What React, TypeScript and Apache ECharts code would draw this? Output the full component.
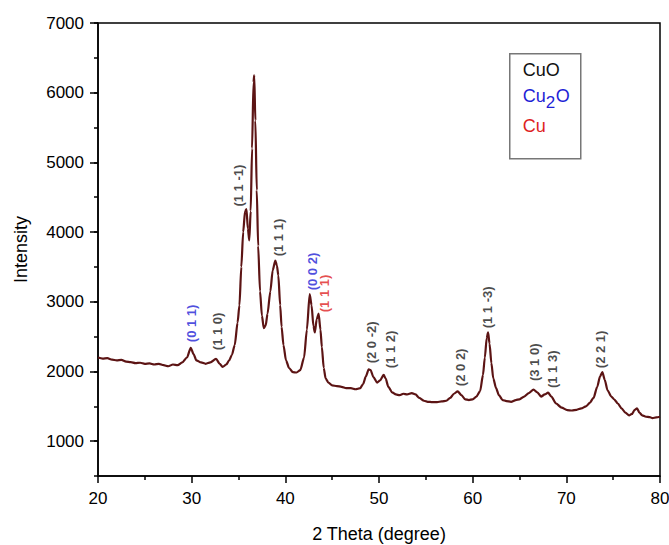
import React, { useEffect, useRef } from "react";
import * as echarts from "echarts";

// 2θ values (degree)
const theta: number[] = [
  20.0, 20.5, 21.0, 21.5, 22.0, 22.5, 23.0, 23.5, 24.0, 24.5, 25.0, 25.5, 26.0, 26.5, 27.0, 27.5, 28.0, 28.5,
  29.0, 29.5, 29.9, 30.2, 30.5, 31.0, 31.5, 32.0, 32.6, 33.0, 33.3, 33.7, 34.0, 34.3, 34.6, 34.9, 35.1, 35.3,
  35.5, 35.7, 35.85, 36.0, 36.15, 36.3, 36.45, 36.6, 36.68, 36.8, 36.95, 37.1, 37.3, 37.5, 37.7, 37.9, 38.1,
  38.4, 38.65, 38.93, 39.1, 39.25, 39.45, 39.6, 39.8, 40.07, 40.4, 40.8, 41.2, 41.6, 42.0, 42.3, 42.6, 42.8,
  43.0, 43.15, 43.35, 43.55, 43.75, 43.9, 44.1, 44.3, 44.6, 45.0, 45.5, 46.0, 46.5, 47.0, 47.5, 48.0, 48.3,
  48.6, 48.9, 49.1, 49.4, 49.8, 50.1, 50.5, 50.7, 51.0, 51.4, 51.8, 52.2, 52.6, 53.0, 53.5, 53.9, 54.3, 54.8,
  55.2, 55.7, 56.2, 56.7, 57.2, 57.6, 58.0, 58.4, 58.8, 59.2, 59.6, 60.0, 60.4, 60.8, 61.1, 61.3, 61.5, 61.65,
  61.8, 62.0, 62.2, 62.5, 62.8, 63.2, 63.6, 64.1, 64.6, 65.0, 65.5, 66.0, 66.5, 66.9, 67.3, 67.7, 68.05, 68.4,
  68.9, 69.5, 70.1, 70.6, 71.1, 71.6, 72.1, 72.5, 72.9, 73.3, 73.6, 73.85, 74.1, 74.4, 74.8, 75.1, 75.5, 75.9,
  76.3, 76.7, 77.0, 77.3, 77.55, 77.8, 78.1, 78.5, 78.9, 79.2, 79.6, 80.0,
];

// Intensity values
const intensity: number[] = [
  2200, 2185, 2190, 2170, 2160, 2165, 2140, 2135, 2120, 2125, 2110, 2115, 2100, 2110, 2090, 2075, 2100, 2090,
  2130, 2200, 2340, 2250, 2160, 2130, 2110, 2130, 2180, 2110, 2065, 2100, 2160, 2240, 2380, 2700, 2950, 3500,
  4000, 4300, 4330, 4050, 3880, 4300, 5200, 6150, 6250, 5600, 4600, 3800, 3150, 2800, 2620, 2660, 2830,
  3150, 3450, 3590, 3520, 3380, 2950, 2640, 2380, 2160, 2050, 1990, 1985, 2020, 2200, 2600, 3110, 2950,
  2650, 2560, 2750, 2830, 2600, 2350, 2050, 1900, 1840, 1800, 1790, 1780, 1760, 1760, 1745, 1760, 1820,
  1930, 2030, 2020, 1920, 1840, 1870, 1950, 1900, 1780, 1700, 1670, 1660, 1680, 1670, 1690, 1670, 1620, 1580,
  1565, 1560, 1560, 1570, 1580, 1620, 1680, 1715, 1660, 1600, 1590, 1600, 1640, 1720, 1950, 2200, 2480, 2560,
  2400, 2120, 1900, 1760, 1660, 1590, 1575, 1565, 1590, 1600, 1640, 1690, 1740, 1700, 1640, 1670, 1695, 1640,
  1540, 1480, 1445, 1440, 1450, 1470, 1500, 1550, 1620, 1780, 1930, 1990, 1880, 1730, 1640, 1600, 1540, 1470,
  1410, 1370, 1390, 1450, 1470, 1410, 1370, 1350, 1345, 1330, 1340, 1350,
];

// Peak annotations (Miller indices)
const peakLabels: string[] = [
  "(0 1 1)", "(1 1 0)", "(1 1 -1)", "(1 1 1)", "(0 0 2)", "(1 1 1)", "(2 0 -2)",
  "(1 1 2)", "(2 0 2)", "(1 1 -3)", "(3 1 0)", "(1 1 3)", "(2 2 1)",
];
const peakLabelTheta: number[] = [29.93, 32.78, 35.05, 39.32, 42.85, 44.23, 49.15, 51.28, 58.75, 61.6, 66.58, 68.54, 73.7];
const peakLabelIntensity: number[] = [2690, 2575, 4666, 3921, 3434, 3119, 2417, 2317, 2059, 2919, 2131, 2031, 2317];
const peakPhase: string[] = ["Cu2O", "CuO", "CuO", "CuO", "Cu2O", "Cu", "CuO", "CuO", "CuO", "CuO", "CuO", "CuO", "CuO"];

const xTicks: number[] = [20, 30, 40, 50, 60, 70, 80];
const yTicks: number[] = [1000, 2000, 3000, 4000, 5000, 6000, 7000];

const phaseColor: Record<string, string> = { CuO: "#1a1a1a", Cu2O: "#1f1fd6", Cu: "#de1f1f" };
const FONT = "Liberation Sans, Arial, Helvetica, sans-serif";

export default function App() {
  const ref = useRef<HTMLDivElement>(null);
  useEffect(() => {
    if (!ref.current) return;
    const chart = echarts.init(ref.current, undefined, { renderer: "svg" });
    const lineData = theta.map((t, i) => [t, intensity[i]]);
    const labelData = peakLabels.map((txt, i) => ({
      value: [peakLabelTheta[i], peakLabelIntensity[i]],
      name: txt,
      label: { color: phaseColor[peakPhase[i]] },
    }));
    chart.setOption({
      animation: false,
      backgroundColor: "#fff",
      textStyle: { fontFamily: FONT },
      grid: {
        left: 98, right: 9, top: 23, bottom: 69,
        show: true, borderColor: "#000", borderWidth: 1.5,
        outerBoundsMode: "none", containLabel: false,
      },
      xAxis: {
        type: "value", min: 20, max: 80, interval: 10,
        name: "2 Theta (degree)", nameLocation: "middle", nameGap: 49,
        nameTextStyle: { fontSize: 18, color: "#000", fontFamily: FONT },
        axisLine: { lineStyle: { color: "#000", width: 1.5 } },
        axisTick: { show: true, length: 7, lineStyle: { color: "#000", width: 1.5 } },
        minorTick: { show: true, splitNumber: 2, length: 4, lineStyle: { color: "#000", width: 1.5 } },
        axisLabel: { fontSize: 17, color: "#000", margin: 14, fontFamily: FONT, customValues: xTicks, formatter: (v: number) => String(v) },
        splitLine: { show: false },
      },
      yAxis: [
        {
          type: "value", min: 500, max: 7000, interval: 500,
          name: "Intensity", nameLocation: "middle", nameGap: 68,
          nameTextStyle: { fontSize: 18, color: "#000", fontFamily: FONT },
          axisLine: { show: true, lineStyle: { color: "#000", width: 1.5 } },
          axisTick: { show: true, length: 4, lineStyle: { color: "#000", width: 1.5 } },
          axisLabel: {
            fontSize: 17, color: "#000", margin: 14, fontFamily: FONT,
            customValues: yTicks,
            formatter: (v: number) => String(v),
          },
          splitLine: { show: false },
        },
        {
          type: "value", min: 500, max: 7000, interval: 500, position: "left",
          axisLine: { show: false },
          axisTick: { show: true, length: 8, customValues: yTicks, lineStyle: { color: "#000", width: 1.5 } },
          axisLabel: { show: false },
          splitLine: { show: false },
        },
      ],
      series: [
        {
          type: "line",
          data: lineData,
          showSymbol: false,
          symbol: "none",
          smooth: 0.25,
          smoothMonotone: "x",
          lineStyle: { color: "#5c1414", width: 2.2 },
          silent: true,
          z: 3,
        },
        {
          type: "scatter",
          data: labelData,
          symbolSize: 1,
          itemStyle: { color: "rgba(0,0,0,0)" },
          silent: true,
          label: {
            show: true,
            position: "inside",
            rotate: 90,
            fontSize: 13,
            fontWeight: "bold",
            fontFamily: FONT,
            formatter: (p: any) => p.name,
          },
          z: 4,
        },
      ],
      graphic: [
        {
          type: "group",
          left: 509,
          top: 53,
          children: [
            { type: "rect", shape: { x: 0, y: 0, width: 71, height: 105 }, style: { fill: "#fff", stroke: "#777", lineWidth: 1.5 } },
            { type: "text", x: 13, y: 16, style: { text: "CuO", fontSize: 18, fontFamily: FONT, fill: "#111", verticalAlign: "middle" } },
            { type: "text", x: 13, y: 42, style: { text: "Cu", fontSize: 18, fontFamily: FONT, fill: "#1f1fd6", verticalAlign: "middle" } },
            { type: "text", x: 36, y: 49, style: { text: "2", fontSize: 17, fontFamily: FONT, fill: "#1f1fd6", verticalAlign: "middle" } },
            { type: "text", x: 46, y: 42, style: { text: "O", fontSize: 18, fontFamily: FONT, fill: "#1f1fd6", verticalAlign: "middle" } },
            { type: "text", x: 13, y: 72, style: { text: "Cu", fontSize: 18, fontFamily: FONT, fill: "#de1f1f", verticalAlign: "middle" } },
          ],
        },
      ],
    });
    return () => chart.dispose();
  }, []);
  return <div ref={ref} style={{ position: "fixed", left: 0, top: 0, width: 669, height: 545 }} />;
}
